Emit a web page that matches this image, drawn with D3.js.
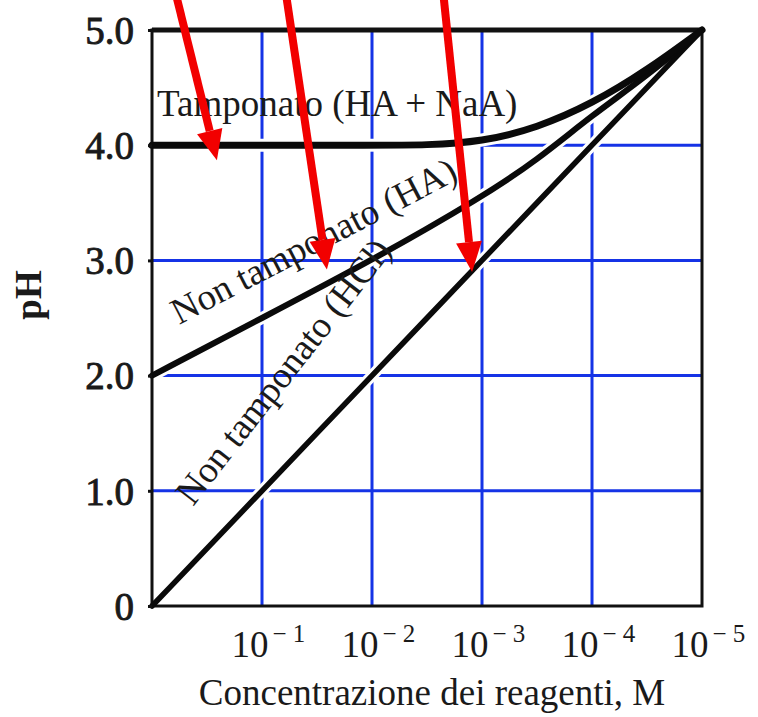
<!DOCTYPE html>
<html>
<head>
<meta charset="utf-8">
<script src="https://cdn.jsdelivr.net/npm/d3@7"></script>
<style>
  html, body { margin: 0; padding: 0; background: #fff; }
  svg text { font-family: "Liberation Serif", "Times New Roman", serif; fill: #1a1a1a; }
</style>
</head>
<body>
<svg id="chart" width="758" height="717"></svg>
<script>
// concentration exponents (C = 10^e, M) and pH
const expHCl = [0, -1, -2, -3, -4, -5];
const phHCl = [0, 1, 2, 3, 4, 5];

const expHA = [0, -1, -2, -3, -3.5, -4, -4.5, -5];
const phHA = [2.0, 2.5, 3.0, 3.55, 3.87, 4.26, 4.6, 5.0];

const expBuf = [0, -1, -2, -2.5, -3, -3.5, -4, -4.5, -5];
const phBuf = [4.0, 4.0, 4.0, 4.0, 4.03, 4.15, 4.36, 4.65, 5.0];

// axis ticks
const yTicks = [0, 1, 2, 3, 4, 5];
const xTickExps = [-1, -2, -3, -4, -5];

// red annotation arrows (tail -> head) in data units
const arrowTailExp = [-0.22, -1.22, -2.65];
const arrowTailPH = [5.3, 5.3, 5.3];
const arrowHeadExp = [-0.59, -1.59, -2.91];
const arrowHeadPH = [3.87, 2.92, 2.9];

const width = 758, height = 717;
const margin = { top: 30, right: 56, bottom: 111, left: 152 };

const svg = d3.select("#chart");

const xScale = d3.scaleLog()
  .domain([1, 1e-5])
  .range([margin.left, width - margin.right]);
const yScale = d3.scaleLinear()
  .domain([0, 5])
  .range([height - margin.bottom, margin.top]);

const px = e => xScale(Math.pow(10, e));

// grid
const grid = svg.append("g").attr("id", "grid")
  .attr("stroke", "#1533e6").attr("stroke-width", 3);
grid.selectAll("line.h").data([1, 2, 3, 4]).join("line")
  .attr("class", "h")
  .attr("x1", xScale(1)).attr("x2", xScale(1e-5))
  .attr("y1", d => yScale(d)).attr("y2", d => yScale(d));
grid.selectAll("line.v").data([-1, -2, -3, -4]).join("line")
  .attr("class", "v")
  .attr("x1", d => px(d)).attr("x2", d => px(d))
  .attr("y1", yScale(0)).attr("y2", yScale(5));

const series = [
  { exps: expHCl, ph: phHCl, w: 5.5 },
  { exps: expHA, ph: phHA, w: 6 },
  { exps: expBuf, ph: phBuf, w: 7 }
];

const line = d3.line()
  .x(d => px(d[0]))
  .y(d => yScale(d[1]))
  .curve(d3.curveBasis);

// white halos cut the grid around the curves
svg.append("g").selectAll("path").data(series).join("path")
  .attr("d", s => line(s.exps.map((e, i) => [e, s.ph[i]])))
  .attr("fill", "none")
  .attr("stroke", "#fff")
  .attr("stroke-width", s => s.w + 6);

// frame
svg.append("rect")
  .attr("x", xScale(1)).attr("y", yScale(5))
  .attr("width", xScale(1e-5) - xScale(1))
  .attr("height", yScale(0) - yScale(5))
  .attr("fill", "none").attr("stroke", "#111").attr("stroke-width", 3);
svg.append("line")
  .attr("x1", xScale(1)).attr("x2", xScale(1e-5))
  .attr("y1", yScale(5)).attr("y2", yScale(5))
  .attr("stroke", "#111").attr("stroke-width", 5);

// curves
svg.append("g").selectAll("path").data(series).join("path")
  .attr("d", s => line(s.exps.map((e, i) => [e, s.ph[i]])))
  .attr("fill", "none")
  .attr("stroke", "#0a0a0a")
  .attr("stroke-linecap", "round")
  .attr("stroke-width", s => s.w);

// y axis
const yAxis = d3.axisLeft(yScale)
  .tickValues(yTicks)
  .tickFormat(d => d === 0 ? "0" : d.toFixed(1))
  .tickSize(4)
  .tickPadding(14);
const gy = svg.append("g").attr("id", "axis-y")
  .attr("transform", `translate(${xScale(1)},0)`)
  .call(yAxis);
gy.select(".domain").remove();
gy.selectAll(".tick line").attr("stroke", "#111").attr("stroke-width", 3);
gy.selectAll(".tick text")
  .attr("font-size", 39)
  .attr("font-family", "Liberation Serif, serif")
  .attr("fill", "#1a1a1a")
  .attr("stroke", "#1a1a1a")
  .attr("stroke-width", 0.9)
  .attr("dy", "0.34em");

// x axis
const xAxis = d3.axisBottom(xScale)
  .tickValues(xTickExps.map(e => Math.pow(10, e)))
  .tickFormat("")
  .tickSize(0);
const gx = svg.append("g").attr("id", "axis-x")
  .attr("transform", `translate(0,${yScale(0)})`)
  .call(xAxis);
gx.select(".domain").remove();
gx.selectAll(".tick").each(function(d, i) {
  const t = d3.select(this).append("text")
    .attr("x", -31).attr("y", 51)
    .attr("text-anchor", "start")
    .attr("font-size", 37)
    .attr("font-family", "Liberation Serif, serif")
    .attr("fill", "#1a1a1a");
  t.append("tspan").text("10");
  t.append("tspan").attr("dx", 4).attr("dy", -15).attr("font-size", 25)
    .text("\u2212 " + (-xTickExps[i]));
});

// axis titles
svg.append("text")
  .attr("x", (xScale(1) + xScale(1e-5)) / 2 + 5)
  .attr("y", 705)
  .attr("text-anchor", "middle")
  .attr("font-size", 37)
  .text("Concentrazione dei reagenti, M");

svg.append("text")
  .attr("transform", `translate(41,${(yScale(2.5) + yScale(2.9)) / 2}) rotate(-90)`)
  .attr("text-anchor", "middle")
  .attr("font-size", 37)
  .attr("font-weight", "bold")
  .text("pH");

// curve labels
svg.append("text")
  .attr("x", xScale(1) + 5).attr("y", yScale(4.25))
  .attr("font-size", 37)
  .text("Tamponato (HA + NaA)");
svg.append("text")
  .attr("transform", `translate(179,${yScale(2.44)}) rotate(-27.5)`)
  .attr("font-size", 37)
  .text("Non tamponato (HA)");
svg.append("text")
  .attr("transform", `translate(193,${yScale(0.86)}) rotate(-52)`)
  .attr("font-size", 37)
  .text("Non tamponato (HCl)");

// red arrows
const arrows = arrowTailExp.map((e, i) => ({
  x1: px(e), y1: yScale(arrowTailPH[i]),
  x2: px(arrowHeadExp[i]), y2: yScale(arrowHeadPH[i])
}));
const ga = svg.append("g").attr("id", "arrows");
arrows.forEach(a => {
  const ang = Math.atan2(a.y2 - a.y1, a.x2 - a.x1);
  const len = 30, hw = 13;
  const bx = a.x2 - len * Math.cos(ang), by = a.y2 - len * Math.sin(ang);
  ga.append("line")
    .attr("x1", a.x1).attr("y1", a.y1).attr("x2", bx).attr("y2", by)
    .attr("stroke", "#f20000").attr("stroke-width", 8);
  const nx = -Math.sin(ang), ny = Math.cos(ang);
  ga.append("polygon")
    .attr("points", [
      [a.x2, a.y2],
      [bx + nx * hw, by + ny * hw],
      [bx - nx * hw, by - ny * hw]
    ].map(p => p.join(",")).join(" "))
    .attr("fill", "#f20000");
});
</script>
</body>
</html>
